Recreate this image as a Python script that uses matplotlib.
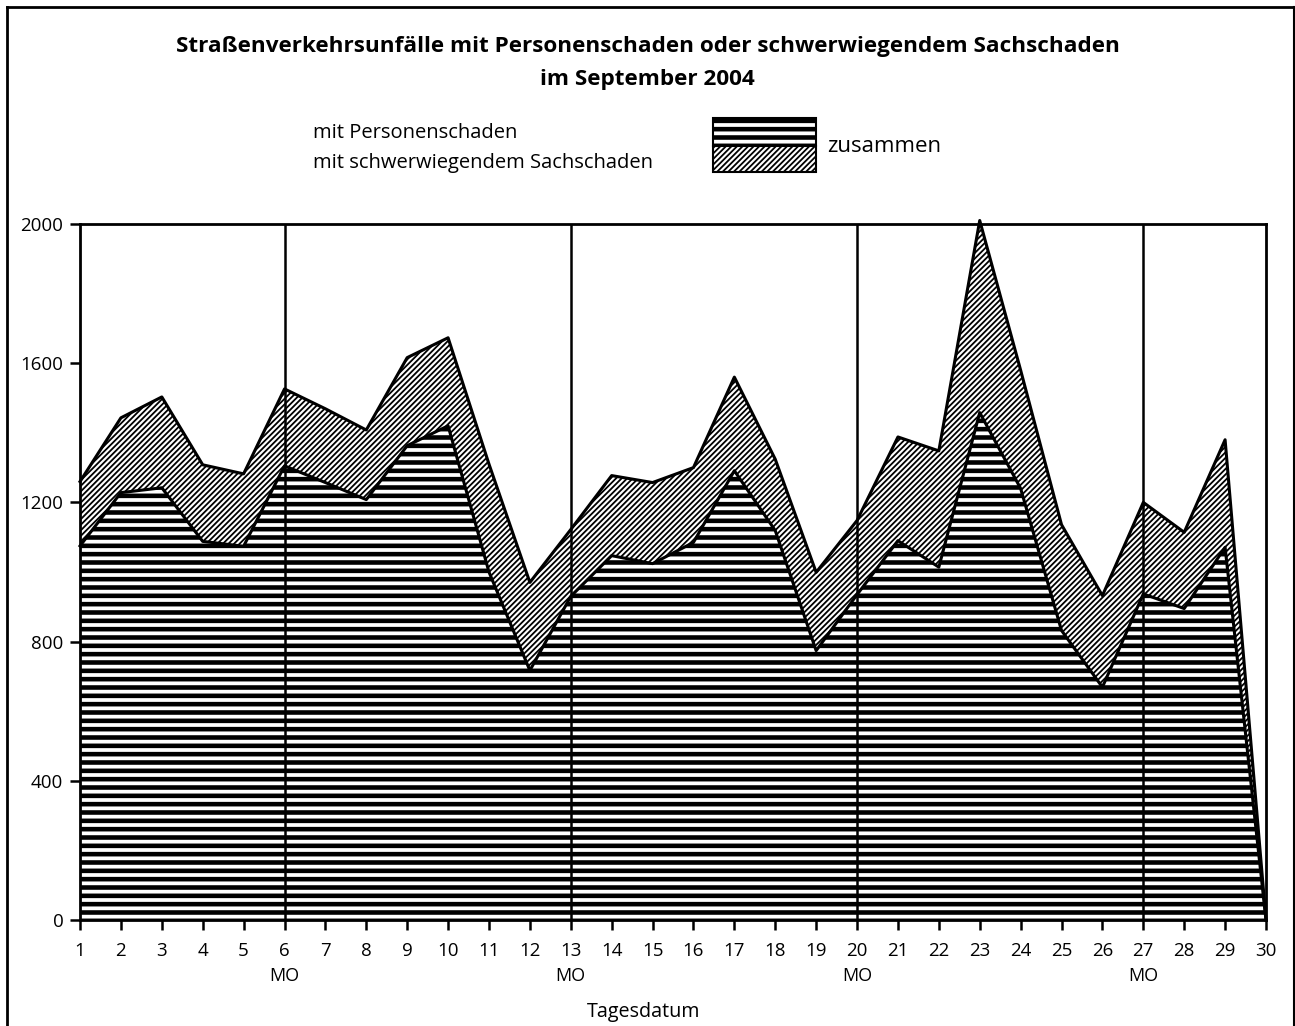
import matplotlib.pyplot as plt
from matplotlib.patches import Rectangle
from matplotlib.lines import Line2D

plt.rcParams['font.family'] = ['Open Sans', 'DejaVu Sans']

# Tagesdatum September 2004
days = list(range(1, 31))
mondays = [6, 13, 20, 27]

# Unfaelle mit Personenschaden (untere Flaeche)
personen = [1075, 1228, 1242, 1088, 1074, 1305, 1257, 1208, 1363, 1420,
            1000, 717, 930, 1047, 1024, 1085, 1291, 1119, 774, 935,
            1090, 1014, 1458, 1240, 832, 669, 937, 895, 1071, 0]
# Unfaelle insgesamt (obere Linie)
zusammen = [1260, 1443, 1503, 1308, 1282, 1526, 1469, 1408, 1616, 1673,
            1310, 970, 1122, 1277, 1257, 1300, 1560, 1324, 999, 1148,
            1388, 1348, 2010, 1580, 1136, 932, 1200, 1114, 1380, 0]

yticks = [0, 400, 800, 1200, 1600, 2000]

H_LW = 3.3   # waagerechte Schraffur
D_LW = 1.3   # schraege Schraffur


def hatch_lw(artist, lw):
    if hasattr(artist, 'set_hatch_linewidth'):
        artist.set_hatch_linewidth(lw)


fig = plt.figure(figsize=(12.95, 10.26), dpi=100)
ax = fig.add_axes([0.0618, 0.1033, 0.9158, 0.6784])

plt.rcParams['hatch.linewidth'] = H_LW
low = ax.fill_between(days, 0, personen, facecolor='white', edgecolor='black',
                      hatch='--', linewidth=0, clip_on=False)
hatch_lw(low, H_LW)
plt.rcParams['hatch.linewidth'] = D_LW
up = ax.fill_between(days, personen, zusammen, facecolor='white', edgecolor='black',
                     hatch='//////', linewidth=0, clip_on=False)
hatch_lw(up, D_LW)

ax.plot(days, personen, color='black', lw=2.2, clip_on=False)
ax.plot(days, zusammen, color='black', lw=2.2, clip_on=False)

for m in mondays:
    ax.axvline(m, color='black', lw=1.8)

ax.set_xlim(1, 30)
ax.set_ylim(0, 2000)
ax.set_xticks(days)
ax.set_xticklabels([str(d) for d in days], fontsize=13.5)
ax.set_yticks(yticks)
ax.set_yticklabels([str(v) for v in yticks], fontsize=13.5)
ax.tick_params(direction='out', length=7, width=1.8, pad=9)
ax.tick_params(axis='y', pad=5)
for s in ax.spines.values():
    s.set_linewidth(2)

for m in mondays:
    ax.text(m, -0.068, 'MO', transform=ax.get_xaxis_transform(), ha='center',
            va='top', fontsize=13)
fig.text(0.497, 0.0135, 'Tagesdatum', ha='center', va='center', fontsize=14.2)

fig.text(0.5, 0.955, 'Straßenverkehrsunfälle mit Personenschaden oder schwerwiegendem Sachschaden',
         ha='center', va='center', fontsize=16.2, fontweight='bold')
fig.text(0.5, 0.923, 'im September 2004', ha='center', va='center',
         fontsize=16.2, fontweight='bold')

# Legende
fig.text(0.2417, 0.870, 'mit Personenschaden', ha='left', va='center', fontsize=14.5)
fig.text(0.2417, 0.841, 'mit schwerwiegendem Sachschaden', ha='left', va='center', fontsize=14.5)
fig.text(0.6386, 0.857, 'zusammen', ha='left', va='center', fontsize=16)

plt.rcParams['hatch.linewidth'] = H_LW
r1 = Rectangle((0.5506, 0.858), 0.0795, 0.027, transform=fig.transFigure,
               facecolor='white', edgecolor='black', hatch='--', lw=1.5)
hatch_lw(r1, H_LW)
fig.patches.append(r1)
plt.rcParams['hatch.linewidth'] = D_LW
r2 = Rectangle((0.5506, 0.832), 0.0795, 0.026, transform=fig.transFigure,
               facecolor='white', edgecolor='black', hatch='//////', lw=1.5)
hatch_lw(r2, D_LW)
fig.patches.append(r2)

# Rahmen
fig.add_artist(Line2D([0.0055, 0.0055], [0.0, 0.993], color='black', lw=2, transform=fig.transFigure))
fig.add_artist(Line2D([0.0055, 0.999], [0.993, 0.993], color='black', lw=2, transform=fig.transFigure))
fig.add_artist(Line2D([0.999, 0.999], [0.0, 0.993], color='black', lw=1.5, transform=fig.transFigure))

fig.savefig('out.png', dpi=100)
